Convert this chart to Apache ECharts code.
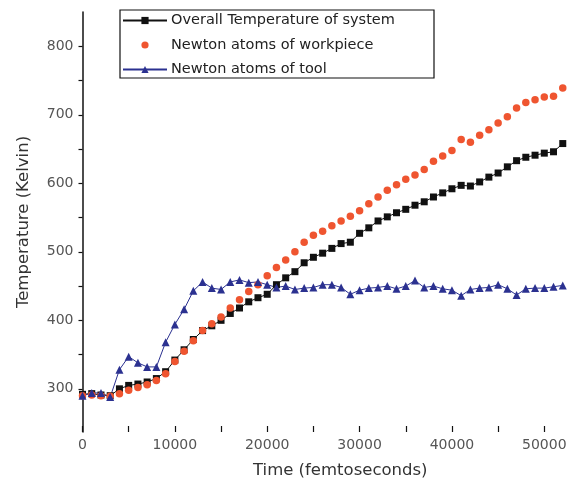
<!DOCTYPE html>
<html>
<head>
<meta charset="utf-8">
<title>Temperature</title>
<script src="https://cdn.jsdelivr.net/npm/echarts@6/dist/echarts.min.js"></script>
<style>
    html, body { margin: 0; padding: 0; background: #fff; }
    #chartBox { width: 585px; height: 488px; }
</style>
</head>
<body>
<div id="chartBox"></div>
<script>
// time (fs)
var timeData = [0, 1000, 2000, 3000, 4000, 5000, 6000, 7000, 8000, 9000,
    10000, 11000, 12000, 13000, 14000, 15000, 16000, 17000, 18000, 19000,
    20000, 21000, 22000, 23000, 24000, 25000, 26000, 27000, 28000, 29000,
    30000, 31000, 32000, 33000, 34000, 35000, 36000, 37000, 38000, 39000,
    40000, 41000, 42000, 43000, 44000, 45000, 46000, 47000, 48000, 49000,
    50000, 51000, 52000];
// Overall Temperature of system
var systemTemp = [292, 293, 291, 290, 300, 305, 307, 310, 315, 325,
    342, 357, 372, 385, 392, 400, 410, 418, 427, 433,
    438, 452, 462, 471, 484, 492, 498, 505, 512, 514,
    527, 535, 545, 551, 557, 562, 568, 573, 580, 586,
    592, 597, 596, 602, 609, 615, 624, 633, 638, 641,
    644, 646, 658];
// Newton atoms of workpiece
var workpieceTemp = [290, 291, 290, 289, 293, 298, 302, 306, 312, 322,
    340, 355, 370, 385, 395, 405, 418, 430, 442, 452,
    465, 477, 488, 500, 514, 524, 530, 538, 545, 552,
    560, 570, 580, 590, 598, 606, 612, 620, 632, 640,
    648, 664, 660, 670, 678, 688, 697, 710, 718, 722,
    726, 727, 739];
// Newton atoms of tool
var toolTemp = [290, 294, 294, 288, 328, 347, 338, 332, 332, 368,
    394, 416, 443, 456, 447, 445, 456, 459, 455, 456,
    452, 448, 450, 445, 447, 448, 452, 452, 448, 438,
    444, 447, 448, 450, 446, 450, 458, 448, 450, 446,
    444, 436, 445, 447, 448, 452, 446, 437, 446, 447,
    447, 449, 451];

var seriesNames = ['Overall Temperature of system', 'Newton atoms of workpiece', 'Newton atoms of tool'];
var xTickValues = [0, 5000, 10000, 15000, 20000, 25000, 30000, 35000, 40000, 45000, 50000];
var xLabelValues = [0, 10000, 20000, 30000, 40000, 50000];
var yTickValues = [300, 350, 400, 450, 500, 550, 600, 650, 700, 750, 800];
var yLabelValues = [300, 400, 500, 600, 700, 800];

var TempModule = (function (echarts) {
    var chart;
    var font = 'DejaVu Sans';

    function pairs(values) {
        return timeData.map(function (t, i) {
            return [t, values[i]];
        });
    }

    return {
        init: function () {
            chart = echarts.init(document.getElementById('chartBox'), null, { renderer: 'canvas' });
            var option = {
                animation: false,
                backgroundColor: '#fff',
                grid: {
                    left: 82.5,
                    right: 13,
                    top: 12,
                    bottom: 56
                },
                legend: {
                    left: 122,
                    top: 13,
                    orient: 'vertical',
                    itemWidth: 44,
                    itemHeight: 9,
                    itemGap: 9.5,
                    padding: 0,
                    data: seriesNames,
                    textStyle: {
                        fontFamily: font,
                        fontSize: 14.5,
                        lineHeight: 14,
                        color: '#222',
                        padding: [0, 0, 0, -1]
                    }
                },
                // legend frame
                graphic: [{
                    type: 'rect',
                    shape: { x: 120, y: 10, width: 314, height: 68 },
                    style: { fill: 'none', stroke: '#111', lineWidth: 1.2 },
                    silent: true
                }],
                xAxis: {
                    type: 'value',
                    min: 0,
                    max: 53000,
                    name: 'Time (femtoseconds)',
                    nameLocation: 'middle',
                    nameGap: 30,
                    nameTextStyle: {
                        fontFamily: font,
                        fontSize: 16.5,
                        color: '#333',
                        padding: [0, 0, 0, 26]
                    },
                    axisLine: { show: false },
                    axisTick: {
                        show: true,
                        inside: true,
                        length: 6,
                        customValues: xTickValues,
                        lineStyle: { color: '#111', width: 1.2 }
                    },
                    axisLabel: {
                        customValues: xLabelValues,
                        formatter: function (v) {
                            return String(v);
                        },
                        margin: 6,
                        fontFamily: font,
                        fontSize: 14,
                        color: '#555'
                    },
                    splitLine: { show: false }
                },
                yAxis: {
                    type: 'value',
                    min: 237,
                    max: 850,
                    name: 'Temperature (Kelvin)',
                    nameLocation: 'middle',
                    nameGap: 50,
                    nameTextStyle: {
                        fontFamily: font,
                        fontSize: 16.5,
                        color: '#333'
                    },
                    axisLine: {
                        show: true,
                        lineStyle: { color: '#111', width: 1.5 }
                    },
                    axisTick: {
                        show: true,
                        length: 4,
                        customValues: yTickValues,
                        lineStyle: { color: '#111', width: 1.2 }
                    },
                    axisLabel: {
                        customValues: yLabelValues,
                        margin: 9,
                        fontFamily: font,
                        fontSize: 14,
                        color: '#555'
                    },
                    splitLine: { show: false }
                },
                series: [{
                    name: seriesNames[0],
                    type: 'line',
                    data: pairs(systemTemp),
                    symbol: 'rect',
                    symbolSize: 7,
                    itemStyle: { color: '#111' },
                    lineStyle: { color: '#111', width: 1 }
                }, {
                    name: seriesNames[1],
                    type: 'line',
                    data: pairs(workpieceTemp),
                    symbol: 'circle',
                    symbolSize: 7.5,
                    itemStyle: { color: '#ef5530' },
                    lineStyle: { width: 0, opacity: 0 }
                }, {
                    name: seriesNames[2],
                    type: 'line',
                    data: pairs(toolTemp),
                    symbol: 'triangle',
                    symbolSize: 8,
                    itemStyle: { color: '#2b3190' },
                    lineStyle: { color: '#2b3190', width: 1 }
                }]
            };
            chart.setOption(option);
        }
    };
})(echarts);

TempModule.init();
</script>
</body>
</html>
